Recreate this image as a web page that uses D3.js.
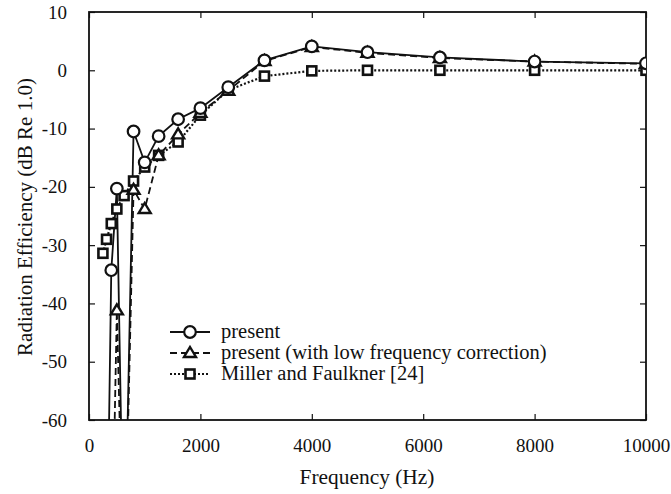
<!DOCTYPE html>
<html>
<head>
<meta charset="UTF-8">
<title>Radiation Efficiency</title>
<style>
    body { margin: 0; padding: 0; background: #fff; }
    svg { display: block; }
    svg text { font-family: "Liberation Serif", "Times New Roman", Times, serif !important; }
</style>
</head>
<body>
<svg id="chart" width="671" height="494"></svg>
<script src="https://d3js.org/d3.v7.min.js"></script>
<script>
// frequency bands (Hz) and values (dB); very low values fall below the axis and get clipped
var freqPresent = [315, 400, 500, 630, 800, 1000, 1250, 1600, 2000, 2500, 3150, 4000, 5000, 6300, 8000, 10000];
var present = [-90, -34.3, -20.3, -90, -10.5, -15.8, -11.3, -8.4, -6.5, -2.9, 1.7, 4.1, 3.1, 2.2, 1.5, 1.2];

var freqCorrected = [400, 500, 630, 800, 1000, 1250, 1600, 2000, 2500, 3150, 4000, 5000, 6300, 8000, 10000];
var corrected = [-90, -41.2, -90, -20.5, -23.8, -14.6, -11.0, -7.3, -3.5, 1.6, 4.0, 3.0, 2.1, 1.5, 1.1];

var freqMiller = [250, 315, 400, 500, 630, 800, 1000, 1250, 1600, 2000, 2500, 3150, 4000, 5000, 6300, 8000, 10000];
var miller = [-31.4, -29.0, -26.3, -23.8, -21.5, -19.0, -16.6, -14.6, -12.3, -7.7, -3.4, -1.0, -0.1, 0, 0, 0, 0];

var xTicks = [0, 2000, 4000, 6000, 8000, 10000];
var yTicks = [10, 0, -10, -20, -30, -40, -50, -60];
var legendLabels = ["present", "present (with low frequency correction)", "Miller and Faulkner [24]"];

const svg = d3.select("#chart");
const mLeft = 89, mRight = 646, mTop = 12, mBottom = 420;

const x = d3.scaleLinear().domain([0, 10000]).range([mLeft, mRight]);
const y = d3.scaleLinear().domain([-60, 10]).range([mBottom, mTop]);

// clip to plot area
svg.append("defs").append("clipPath").attr("id", "clip")
  .append("rect").attr("x", mLeft).attr("y", mTop)
  .attr("width", mRight - mLeft).attr("height", mBottom - mTop);

// axes with inward ticks on all sides, plain hyphen for negatives
const tickLen = 6;
const fmt = d => String(d);
svg.append("g").attr("transform", `translate(0,${mBottom})`)
  .call(d3.axisBottom(x).tickValues(xTicks).tickSize(-tickLen).tickPadding(19).tickFormat(fmt))
  .call(g => g.select(".domain").remove());
svg.append("g").attr("transform", `translate(0,${mTop})`)
  .call(d3.axisTop(x).tickValues(xTicks).tickSize(-tickLen).tickFormat(""))
  .call(g => g.select(".domain").remove());
svg.append("g").attr("transform", `translate(${mLeft},0)`)
  .call(d3.axisLeft(y).tickValues(yTicks).tickSize(-tickLen).tickPadding(22).tickFormat(fmt))
  .call(g => g.select(".domain").remove());
svg.append("g").attr("transform", `translate(${mRight},0)`)
  .call(d3.axisRight(y).tickValues(yTicks).tickSize(-tickLen).tickFormat(""))
  .call(g => g.select(".domain").remove());

svg.selectAll(".tick line").attr("stroke", "#111").attr("stroke-width", 1.2);
svg.selectAll(".tick text")
  .style("font-size", "19px").attr("fill", "#111");

svg.append("rect").attr("x", mLeft).attr("y", mTop)
  .attr("width", mRight - mLeft).attr("height", mBottom - mTop)
  .attr("fill", "none").attr("stroke", "#111").attr("stroke-width", 1.8);

// axis labels
svg.append("text").attr("x", 367).attr("y", 484)
  .attr("text-anchor", "middle").style("font-size", "21.4px").attr("fill", "#111")
  .text("Frequency (Hz)");
svg.append("text").attr("transform", "translate(32,217) rotate(-90)")
  .attr("text-anchor", "middle").style("font-size", "21px").attr("fill", "#111")
  .text("Radiation Efficiency (dB Re 1.0)");

const plot = svg.append("g").attr("clip-path", "url(#clip)");

function drawSeries(fx, fy, dash, width) {
  const line = d3.line().x((d, i) => x(fx[i])).y(d => y(d));
  plot.append("path").datum(fy)
    .attr("d", line)
    .attr("fill", "none").attr("stroke", "#111")
    .attr("stroke-width", width)
    .attr("stroke-dasharray", dash);
}

drawSeries(freqMiller, miller, "2,2", 2.2);
drawSeries(freqCorrected, corrected, "7,4", 1.8);
drawSeries(freqPresent, present, null, 1.8);

function squareAt(g, cx, cy) {
  g.append("rect").attr("x", cx - 4.5).attr("y", cy - 4.5).attr("width", 9).attr("height", 9)
    .attr("fill", "#fff").attr("stroke", "#111").attr("stroke-width", 2.6);
}
function triAt(g, cx, cy) {
  g.append("path").attr("d", `M${cx},${cy - 6}L${cx + 6},${cy + 4}L${cx - 6},${cy + 4}Z`)
    .attr("fill", "#fff").attr("stroke", "#111").attr("stroke-width", 2.4);
}
function circAt(g, cx, cy) {
  g.append("circle").attr("cx", cx).attr("cy", cy).attr("r", 5.8)
    .attr("fill", "#fff").attr("stroke", "#111").attr("stroke-width", 2.2);
}

freqMiller.forEach((f, i) => squareAt(plot, x(f), y(miller[i])));
freqCorrected.forEach((f, i) => triAt(plot, x(f), y(corrected[i])));
freqPresent.forEach((f, i) => circAt(plot, x(f), y(present[i])));

// legend
const leg = svg.append("g");
const legY = [332, 353, 374];
const legDash = [null, "7,4", "2,2"];
const legMark = [circAt, triAt, squareAt];
legendLabels.forEach((lab, i) => {
  leg.append("line").attr("x1", 170).attr("x2", 210)
    .attr("y1", legY[i]).attr("y2", legY[i])
    .attr("stroke", "#111").attr("stroke-width", 1.8)
    .attr("stroke-dasharray", legDash[i]);
  legMark[i](leg, 190, legY[i]);
  leg.append("text").attr("x", 221).attr("y", legY[i] + 6)
    .style("font-size", "20.5px").attr("fill", "#111").text(lab);
});
</script>
</body>
</html>
